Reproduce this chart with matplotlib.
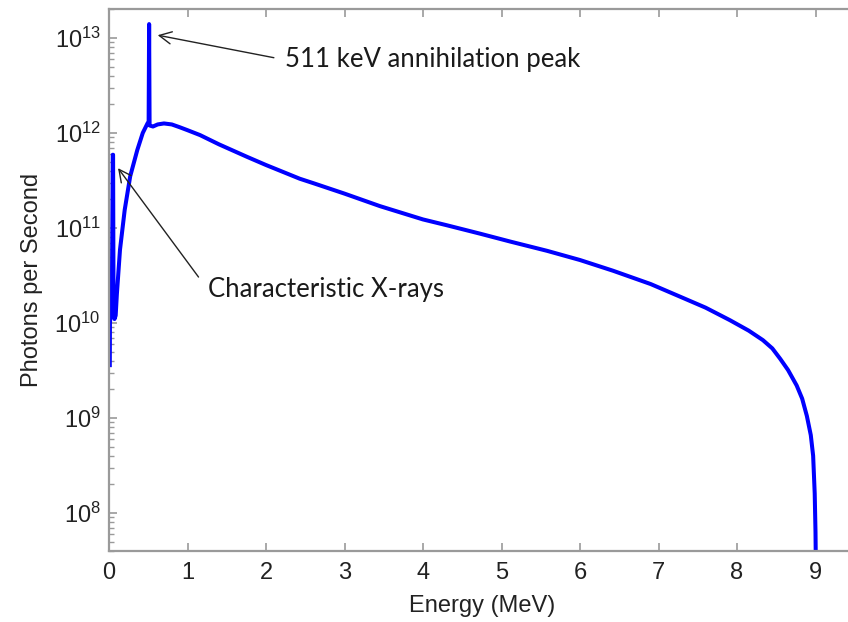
import numpy as np
import matplotlib.pyplot as plt
from matplotlib.ticker import NullFormatter, FixedLocator

# Bremsstrahlung spectrum
energy_mev = [0.010, 0.012, 0.020, 0.035, 0.048, 0.052, 0.058, 0.070, 0.085,
              0.100, 0.140, 0.200, 0.270, 0.360, 0.430, 0.490, 0.505, 0.511,
              0.517, 0.560, 0.620, 0.700, 0.800, 0.900, 1.000, 1.160, 1.400,
              1.760, 2.000, 2.430, 2.610, 3.000, 3.450, 4.000, 4.300, 4.730,
              5.110, 5.580, 6.000, 6.420, 6.900, 7.270, 7.600, 7.910, 8.150,
              8.330, 8.450, 8.550, 8.650, 8.760, 8.830, 8.890, 8.940, 8.970,
              8.990, 9.000, 9.010, 9.020]
photons = [3.6e9, 1.0e10, 1.2e10, 1.3e10, 5.9e11, 5.9e11, 1.2e10, 1.1e10, 1.2e10,
           2.0e10, 5.9e10, 1.55e11, 3.5e11, 6.6e11, 1.0e12, 1.26e12, 1.32e12, 1.4e13,
           1.2e12, 1.17e12, 1.23e12, 1.26e12, 1.23e12, 1.15e12, 1.07e12, 9.5e11, 7.6e11,
           5.6e11, 4.6e11, 3.3e11, 2.95e11, 2.3e11, 1.7e11, 1.23e11, 1.07e11, 8.7e10,
           7.2e10, 5.75e10, 4.6e10, 3.55e10, 2.57e10, 1.9e10, 1.45e10, 1.07e10, 8.3e9,
           6.6e9, 5.4e9, 4.2e9, 3.2e9, 2.2e9, 1.6e9, 1.05e9, 6.6e8, 4.0e8,
           1.6e8, 6.3e7, 1.0e7, 1.0e6]

xticks = [0, 1, 2, 3, 4, 5, 6, 7, 8, 9]
yticks = [1e8, 1e9, 1e10, 1e11, 1e12, 1e13]
yminor = [m * 10.0 ** d for d in range(7, 14) for m in range(2, 10)]

plt.rcParams['font.family'] = ['Liberation Sans', 'DejaVu Sans']
plt.rcParams['mathtext.default'] = 'regular'

fig = plt.figure(figsize=(8.48, 6.22), dpi=100)
ax = fig.add_axes([109 / 848, 71 / 622, 745.75 / 848, 542 / 622])

ax.plot(energy_mev, photons, color='#0000ff', lw=2.9, solid_joinstyle='round')

ax.set_yscale('log')
ax.set_xlim(0, 9.5)
ax.set_ylim(10 ** 7.6, 10 ** 13.305)

ax.xaxis.set_major_locator(FixedLocator(xticks))
ax.yaxis.set_major_locator(FixedLocator(yticks))
ax.yaxis.set_minor_locator(FixedLocator(yminor))
ax.yaxis.set_minor_formatter(NullFormatter())
ax.set_yticklabels(['$10^{%d}$' % int(np.log10(v)) for v in yticks])

ax.spines['right'].set_visible(False)
for s in ax.spines.values():
    s.set_color('#9a9a9a')
    s.set_linewidth(1.6)
ax.tick_params(axis='both', which='both', direction='in', colors='#9a9a9a',
               labelcolor='#222222', labelsize=17)
ax.tick_params(axis='x', top=True, length=6, width=1.2, pad=8)
ax.tick_params(axis='y', which='major', length=6, width=1.2, pad=6)
ax.tick_params(axis='y', which='minor', length=3.5, width=1.0)

ax.set_xlabel('Energy (MeV)', fontsize=17, color='#222222', labelpad=8)
ax.set_ylabel('Photons per Second', fontsize=17, color='#222222', labelpad=8)

ann_font = ['Lato', 'DejaVu Sans']
ax.annotate('511 keV annihilation peak', xy=(0.62, 1.07e13), xytext=(2.24, 10 ** 12.77),
            fontsize=18.5, family=ann_font, color='#1a1a1a', ha='left', va='center',
            arrowprops=dict(arrowstyle='->', color='#222222', lw=1.0,
                            relpos=(0, 0.5), shrinkA=6, shrinkB=0,
                            mutation_scale=22))
ax.annotate('Characteristic X-rays', xy=(0.115, 10 ** 11.63), xytext=(1.26, 10 ** 10.35),
            fontsize=18.5, family=ann_font, color='#1a1a1a', ha='left', va='center',
            arrowprops=dict(arrowstyle='->', color='#222222', lw=1.0,
                            relpos=(0, 0.5), shrinkA=8, shrinkB=0,
                            mutation_scale=22))

fig.savefig('out.png', dpi=100)
